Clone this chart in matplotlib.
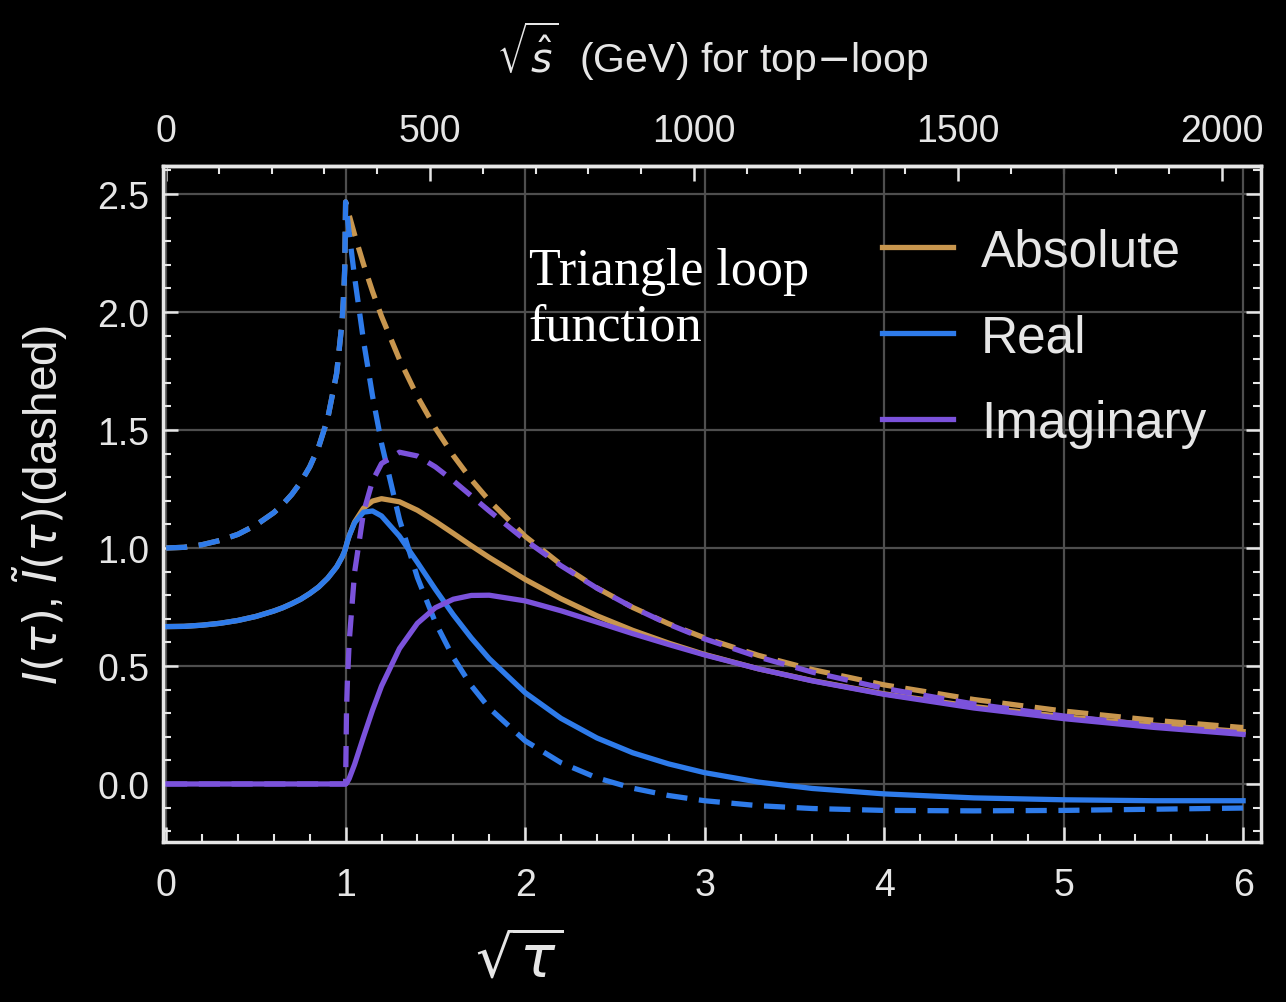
import matplotlib
matplotlib.use('Agg')
import matplotlib.pyplot as plt
from matplotlib.ticker import MultipleLocator, FixedLocator

plt.rcParams['font.family'] = ['Liberation Sans', 'DejaVu Sans']
plt.rcParams['mathtext.fontset'] = 'dejavusans'

# sqrt(tau) sample points
sqrt_tau = [0, 0.1, 0.2, 0.3, 0.4, 0.5, 0.6, 0.65, 0.7, 0.75, 0.8, 0.85, 0.9, 0.95, 0.98, 0.99, 0.995, 1.0,
            1.005, 1.01, 1.02, 1.05, 1.1, 1.15, 1.2, 1.3, 1.4, 1.5, 1.6, 1.7, 1.8,
            2.0, 2.2, 2.4, 2.6, 2.8, 3.0, 3.3, 3.6, 4.0, 4.5, 5.0, 5.5, 6.0]

# I(tau)  (solid)
re_I = [0.667, 0.668, 0.673, 0.681, 0.693, 0.710, 0.733, 0.747, 0.764, 0.783, 0.807, 0.835, 0.872, 0.920,
        0.961, 0.978, 0.988, 1.000,
        1.014, 1.028, 1.052, 1.107, 1.152, 1.157, 1.136, 1.050, 0.939, 0.825, 0.717, 0.619, 0.531,
        0.387, 0.278, 0.195, 0.132, 0.085, 0.048, 0.008, -0.019, -0.042, -0.059, -0.067, -0.071, -0.071]
im_I = [0] * 18 + [
        0.003, 0.009, 0.023, 0.083, 0.200, 0.313, 0.415, 0.574, 0.681, 0.747, 0.783, 0.799, 0.800,
        0.776, 0.734, 0.686, 0.637, 0.591, 0.547, 0.488, 0.437, 0.380, 0.322, 0.277, 0.240, 0.210]
abs_I = [0.667, 0.668, 0.673, 0.681, 0.693, 0.710, 0.733, 0.747, 0.764, 0.783, 0.807, 0.835, 0.872, 0.920,
         0.961, 0.978, 0.988, 1.000,
         1.014, 1.028, 1.052, 1.110, 1.169, 1.199, 1.209, 1.196, 1.160, 1.113, 1.062, 1.010, 0.960,
         0.867, 0.785, 0.713, 0.651, 0.597, 0.549, 0.488, 0.438, 0.382, 0.328, 0.285, 0.250, 0.222]

# I~(tau)  (dashed)
re_It = [1.000, 1.003, 1.014, 1.032, 1.058, 1.097, 1.150, 1.185, 1.227, 1.279, 1.344, 1.429, 1.548, 1.740,
         1.956, 2.084, 2.185, 2.467,
         2.433, 2.399, 2.333, 2.148, 1.877, 1.644, 1.444, 1.121, 0.875, 0.685, 0.536, 0.417, 0.322,
         0.183, 0.090, 0.026, -0.018, -0.049, -0.071, -0.092, -0.104, -0.112, -0.114, -0.112, -0.107, -0.102]
im_It = [0] * 18 + [
         0.311, 0.435, 0.603, 0.897, 1.152, 1.285, 1.358, 1.406, 1.390, 1.344, 1.285, 1.221, 1.157,
         1.034, 0.925, 0.830, 0.748, 0.677, 0.615, 0.538, 0.474, 0.405, 0.339, 0.288, 0.248, 0.216]
abs_It = [1.000, 1.003, 1.014, 1.032, 1.058, 1.097, 1.150, 1.185, 1.227, 1.279, 1.344, 1.429, 1.548, 1.740,
          1.956, 2.084, 2.185, 2.467,
          2.453, 2.438, 2.410, 2.328, 2.202, 2.087, 1.982, 1.799, 1.642, 1.508, 1.392, 1.290, 1.201,
          1.050, 0.930, 0.831, 0.748, 0.679, 0.619, 0.545, 0.485, 0.420, 0.358, 0.309, 0.270, 0.239]

top_ticks = [0, 500, 1000, 1500, 2000]
GEV_PER_UNIT = 340  # 2 m_t, top axis scale

c_abs = '#C8964E'
c_re = '#2E7BEA'
c_im = '#7B52DB'
fg = '#E6E6E6'

fig = plt.figure(figsize=(12.86, 10.03), dpi=100, facecolor='black')
ax = fig.add_axes([0.1268, 0.1595, 0.8538, 0.674], facecolor='black')

lw = 3.8
dash = (4.0, 2.2)
ax.plot(sqrt_tau, abs_It, color=c_abs, lw=lw, dashes=dash)
ax.plot(sqrt_tau, abs_I, color=c_abs, lw=lw, label='Absolute')
ax.plot(sqrt_tau, re_It, color=c_re, lw=lw, dashes=dash)
ax.plot(sqrt_tau, re_I, color=c_re, lw=lw, label='Real')
ax.plot(sqrt_tau, im_It, color=c_im, lw=lw, dashes=dash)
ax.plot(sqrt_tau, im_I, color=c_im, lw=lw, label='Imaginary')

ax.set_xlim(-0.017, 6.1)
ax.set_ylim(-0.246, 2.619)
ax.xaxis.set_major_locator(MultipleLocator(1))
ax.xaxis.set_minor_locator(MultipleLocator(0.2))
ax.yaxis.set_major_locator(MultipleLocator(0.5))
ax.yaxis.set_minor_locator(MultipleLocator(0.1))
ax.yaxis.set_major_formatter(plt.FormatStrFormatter('%.1f'))
ax.grid(True, which='major', color='#4E4E4E', lw=1.6, zorder=0)
ax.set_axisbelow(True)

for sp in ax.spines.values():
    sp.set_color(fg)
    sp.set_linewidth(2.5)

ax.tick_params(which='both', direction='in', colors=fg, top=False, right=True,
               labelsize=27)
ax.tick_params(which='major', length=11, width=1.8)
ax.tick_params(which='minor', length=6, width=1.5)
ax.tick_params(axis='x', pad=18)
ax.tick_params(axis='y', pad=10)

top = ax.secondary_xaxis('top', functions=(lambda x: x * GEV_PER_UNIT,
                                           lambda s: s / GEV_PER_UNIT))
top.xaxis.set_major_locator(FixedLocator(top_ticks))
top.xaxis.set_minor_locator(MultipleLocator(100))
top.tick_params(which='both', direction='in', colors=fg, labelsize=27, pad=12)
top.tick_params(which='major', length=11, width=1.8)
top.tick_params(which='minor', length=6, width=1.5)
top.spines['top'].set_color(fg)
top.spines['top'].set_linewidth(2.5)
top.set_xlabel(r'$\sqrt{\hat{s}}$  (GeV) for top$-$loop', color=fg, fontsize=29.5, labelpad=30)

ax.set_xlabel(r'$\sqrt{\tau}$', color=fg, fontsize=42)
ax.xaxis.set_label_coords(0.325, -0.135)
ax.set_ylabel(r'$I(\tau)$, $\tilde{I}(\tau)$(dashed)', color=fg, fontsize=33)
ax.yaxis.set_label_coords(-0.085, 0.5)

ax.text(2.02, 2.275, 'Triangle loop\nfunction', color='white', fontsize=37.5,
        family='Liberation Serif', va='top', ha='left', linespacing=1.2)

leg = ax.legend(loc='upper left', bbox_to_anchor=(0.613, 0.978), frameon=False,
                fontsize=37, handlelength=1.37, handletextpad=0.55, labelspacing=0.72)
for t in leg.get_texts():
    t.set_color(fg)

fig.savefig('out.png', dpi=100, facecolor='black')
